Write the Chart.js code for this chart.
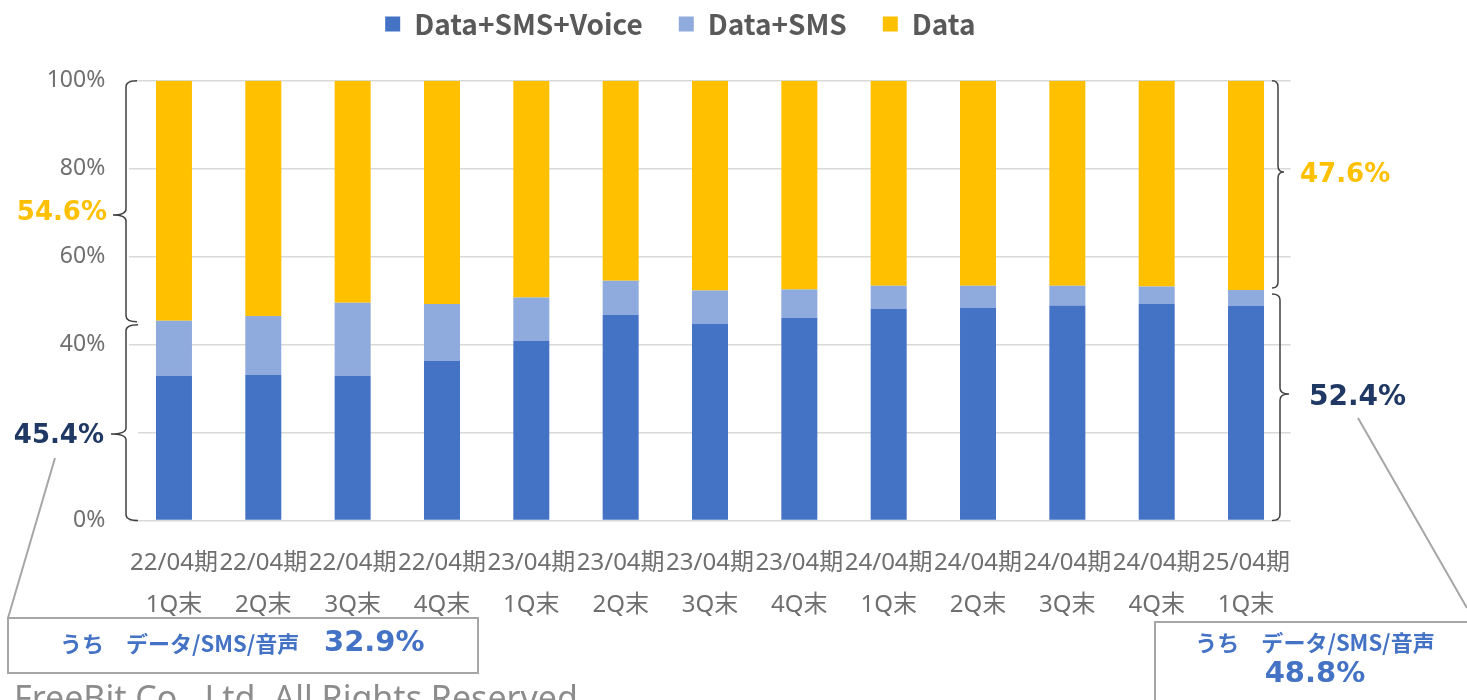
<!DOCTYPE html>
<html>
<head>
<meta charset="utf-8">
<script src="https://cdn.jsdelivr.net/npm/chart.js@4.4.0/dist/chart.umd.min.js"></script>
<style>
  html, body { margin: 0; padding: 0; background: #fff; }
</style>
</head>
<body>
<canvas id="canvas" width="1467" height="700"></canvas>
<script>
var periods = ['22/04期', '22/04期', '22/04期', '22/04期', '23/04期', '23/04期', '23/04期', '23/04期', '24/04期', '24/04期', '24/04期', '24/04期', '25/04期'];
var quarters = ['1Q末', '2Q末', '3Q末', '4Q末', '1Q末', '2Q末', '3Q末', '4Q末', '1Q末', '2Q末', '3Q末', '4Q末', '1Q末'];

var voiceShare = [32.9, 33.1, 32.9, 36.3, 40.8, 46.8, 44.7, 46.1, 48.1, 48.4, 48.9, 49.2, 48.8];
var smsShare = [12.5, 13.4, 16.6, 12.9, 9.9, 7.7, 7.6, 6.4, 5.3, 5.0, 4.5, 4.0, 3.6];
var dataShare = [54.6, 53.5, 50.5, 50.8, 49.3, 45.5, 47.7, 47.5, 46.6, 46.6, 46.6, 46.8, 47.6];

var yTicks = [0, 20, 40, 60, 80, 100];

var tickColor = '#6f6f6f';
var textFont = '"Noto Sans", "Noto Sans CJK JP", sans-serif';
var jpFont = '"Noto Sans CJK JP", "Noto Sans", sans-serif';

// legend: fixed height, pulled up and nudged right so it sits like the original
var legendTweak = {
    id: 'legendTweak',
    beforeInit: function (chart) {
        var fit = chart.legend.fit;
        chart.legend.fit = function () {
            fit.call(this);
            this.height = 80.7;
        };
    },
    afterLayout: function (chart) {
        var lg = chart.legend;
        lg.top = -26;
        lg.left += 35;
        lg.right += 35;
    }
};

function brace(ctx, x, top, bottom, tip, dir, hook, tipLen) {
    // dir = -1: tip points left, hooks go right
    var r = 6;
    ctx.beginPath();
    ctx.moveTo(x - dir * hook, top);
    ctx.quadraticCurveTo(x, top, x, top + r);
    ctx.lineTo(x, tip - r);
    ctx.quadraticCurveTo(x, tip, x + dir * tipLen, tip);
    ctx.quadraticCurveTo(x, tip, x, tip + r);
    ctx.lineTo(x, bottom - r);
    ctx.quadraticCurveTo(x, bottom, x - dir * hook, bottom);
    ctx.stroke();
}

var callouts = {
    id: 'callouts',
    afterDraw: function (chart) {
        var ctx = chart.ctx;
        var y = chart.scales.y;
        var last = voiceShare.length - 1;
        var firstTotal = voiceShare[0] + smsShare[0];
        var lastTotal = voiceShare[last] + smsShare[last];

        ctx.save();
        // white patch behind the left lower label (hides 20% tick)
        ctx.fillStyle = '#fff';
        ctx.fillRect(4, 418, 134, 34);

        ctx.strokeStyle = '#404040';
        ctx.lineWidth = 1.5;
        brace(ctx, 126, y.getPixelForValue(100), y.getPixelForValue(firstTotal) + 1, 215, -1, 11, 13);
        brace(ctx, 126, y.getPixelForValue(firstTotal) + 4, y.getPixelForValue(0), 434, -1, 12, 15);
        brace(ctx, 1278, y.getPixelForValue(100), y.getPixelForValue(lastTotal) - 2, 172, 1, 6, 6);
        brace(ctx, 1280, y.getPixelForValue(lastTotal) + 4, y.getPixelForValue(0), 394, 1, 8, 9);

        // leader lines
        ctx.strokeStyle = '#a6a6a6';
        ctx.lineWidth = 2;
        ctx.beginPath();
        ctx.moveTo(55, 458);
        ctx.lineTo(8, 618);
        ctx.moveTo(1358, 418);
        ctx.lineTo(1467, 608);
        ctx.stroke();

        // side labels
        ctx.textBaseline = 'middle';
        ctx.font = 'bold 26px "DejaVu Sans"';
        ctx.fillStyle = '#FFC000';
        ctx.textAlign = 'right';
        ctx.fillText(dataShare[0].toFixed(1) + '%', 107, 213);
        ctx.textAlign = 'left';
        ctx.fillText(dataShare[last].toFixed(1) + '%', 1300, 175);
        ctx.fillStyle = '#1F3864';
        ctx.textAlign = 'right';
        ctx.fillText(firstTotal.toFixed(1) + '%', 104, 436);
        ctx.textAlign = 'left';
        ctx.font = 'bold 28px "DejaVu Sans"';
        ctx.fillText(lastTotal.toFixed(1) + '%', 1309, 398);

        // boxes
        ctx.fillStyle = '#fff';
        ctx.strokeStyle = '#a6a6a6';
        ctx.lineWidth = 2;
        ctx.fillRect(8, 618, 470, 55);
        ctx.strokeRect(8, 618, 470, 55);
        ctx.fillRect(1155, 622, 330, 100);
        ctx.strokeRect(1155, 622, 330, 100);

        ctx.fillStyle = '#4472C4';
        ctx.textAlign = 'left';
        ctx.font = 'bold 22px ' + jpFont;
        ctx.fillText('うち　データ/SMS/音声', 60, 644);
        ctx.font = 'bold 29px "DejaVu Sans"';
        ctx.fillText(voiceShare[0].toFixed(1) + '%', 324, 643);

        ctx.textAlign = 'center';
        ctx.font = 'bold 22px ' + jpFont;
        ctx.fillText('うち　データ/SMS/音声', 1315, 643);
        ctx.font = 'bold 29px "DejaVu Sans"';
        ctx.fillText(voiceShare[last].toFixed(1) + '%', 1315, 674);

        // footer
        ctx.textAlign = 'left';
        ctx.textBaseline = 'alphabetic';
        ctx.fillStyle = '#8c8c8c';
        ctx.font = '34px ' + textFont;
        ctx.fillText('FreeBit Co., Ltd. All Rights Reserved', 14, 710);
        ctx.restore();
    }
};

var labels = periods.map(function (p, i) { return [p, quarters[i]]; });

new Chart(document.getElementById('canvas').getContext('2d'), {
    type: 'bar',
    data: {
        labels: labels,
        datasets: [
            { label: 'Data+SMS+Voice', data: voiceShare, backgroundColor: '#4472C4' },
            { label: 'Data+SMS', data: smsShare, backgroundColor: '#8FAADC' },
            { label: 'Data', data: dataShare, backgroundColor: '#FFC000' }
        ]
    },
    options: {
        responsive: false,
        animation: false,
        devicePixelRatio: 1,
        datasets: { bar: { barPercentage: 0.403, categoryPercentage: 1 } },
        layout: { padding: { left: 0, right: 176.3, top: 0, bottom: 0 } },
        plugins: {
            legend: {
                position: 'top',
                labels: {
                    boxWidth: 15,
                    boxHeight: 15,
                    padding: 36,
                    color: '#595959',
                    font: { family: jpFont, size: 28, weight: 'bold' }
                }
            },
            tooltip: { enabled: false }
        },
        scales: {
            x: {
                stacked: true,
                afterFit: function (s) { s.height = 179.5; },
                grid: { display: false },
                border: { display: false },
                ticks: {
                    padding: 13.5,
                    maxRotation: 0,
                    autoSkip: false,
                    color: tickColor,
                    font: { family: textFont, size: 24, lineHeight: 1.75 }
                }
            },
            y: {
                stacked: true,
                min: 0,
                max: 100,
                afterFit: function (s) { s.width = 129.3; },
                afterBuildTicks: function (s) {
                    s.ticks = yTicks.map(function (v) { return { value: v }; });
                },
                grid: { color: '#d9d9d9', lineWidth: 1.5, drawTicks: false },
                border: { display: false },
                ticks: {
                    padding: 24,
                    color: tickColor,
                    font: { family: textFont, size: 23 },
                    callback: function (v) { return v === 20 ? '' : v + '%'; }
                }
            }
        }
    },
    plugins: [legendTweak, callouts]
});
</script>
</body>
</html>
